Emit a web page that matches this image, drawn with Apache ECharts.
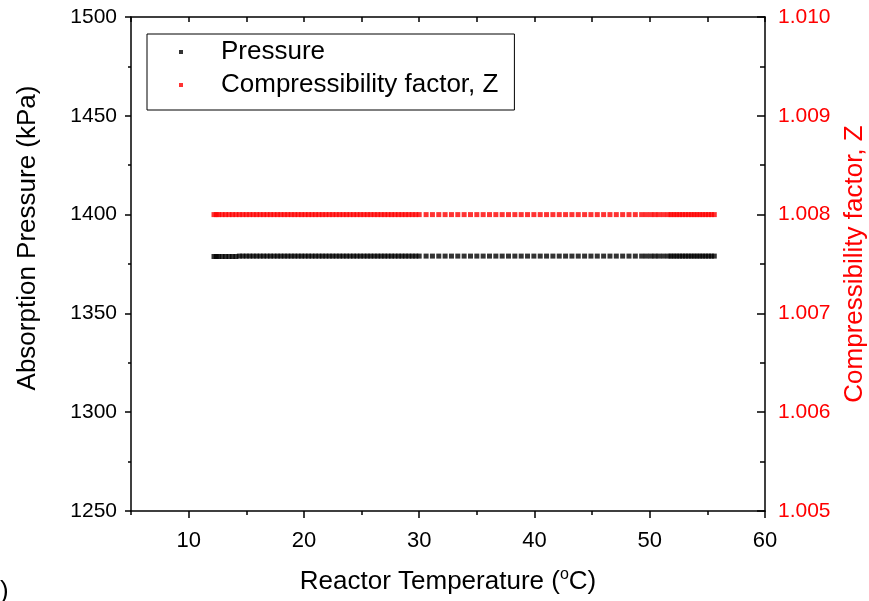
<!DOCTYPE html>
<html>
<head>
<meta charset="utf-8">
<script src="https://cdn.jsdelivr.net/npm/echarts@6/dist/echarts.min.js"></script>
<style>html,body{margin:0;padding:0;background:#fff}#c{width:869px;height:601px}</style>
</head>
<body>
<div id="c"></div>
<script>
// Reactor temperature (°C) of each recorded point
const temps = [
  12.2,12.4,12.6,12.9,13.2,13.5,13.8,14.1,14.4,14.7,
  15.0,15.3,15.6,15.9,16.2,16.5,16.8,17.1,17.4,17.7,
  18.0,18.3,18.6,18.9,19.2,19.5,19.8,20.1,20.4,20.7,
  21.0,21.3,21.6,21.9,22.2,22.5,22.8,23.1,23.4,23.7,
  24.0,24.3,24.6,24.9,25.2,25.5,25.8,26.1,26.4,26.7,
  27.0,27.3,27.6,27.9,28.2,28.5,28.8,29.1,29.4,29.7,
  30.0,
  30.6,31.15,31.7,32.25,32.8,33.35,33.9,34.45,35.0,35.55,
  36.1,36.65,37.2,37.75,38.3,38.85,39.4,39.95,40.5,41.05,
  41.6,42.15,42.7,43.25,43.8,44.35,44.9,45.45,46.0,46.55,
  47.1,47.65,48.2,48.75,49.3,
  49.7,50.1,50.45,50.8,51.2,
  51.6,51.85,52.1,52.35,52.6,52.85,53.1,53.35,53.6,53.85,
  54.1,54.35,54.6,54.85,55.1,55.35,55.6
];
// Absorption pressure (kPa)
const pressure = [
  1378.8,1378.8,1378.8,1378.8,1378.8,1378.8,1378.8,1378.8,1379,1379,
  1379,1379,1379,1379,1379,1379,1379,1379,1379,1379,
  1379,1379,1379,1379,1379,1379,1379,1379,1379,1379,
  1379,1379,1379,1379,1379,1379,1379,1379,1379,1379,
  1379,1379,1379,1379,1379,1379,1379,1379,1379,1379,
  1379,1379,1379,1379,1379,1379,1379,1379,1379,1379,
  1379,1379,1379,1379,1379,1379,1379,1379,1379,1379,
  1379,1379,1379,1379,1379,1379,1379,1379,1379,1379,
  1379,1379,1379,1379,1379,1379,1379,1379,1379,1379,
  1379,1379,1379,1379,1379,1379,1379,1379,1379,1379,
  1379,1379,1379,1379,1379,1379,1379,1379,1379,1379,
  1379,1379,1379,1379,1379,1379,1379,1379
];
// Compressibility factor Z
const zFactor = [
  1.008,1.008,1.008,1.008,1.008,1.008,1.008,1.008,1.008,1.008,
  1.008,1.008,1.008,1.008,1.008,1.008,1.008,1.008,1.008,1.008,
  1.008,1.008,1.008,1.008,1.008,1.008,1.008,1.008,1.008,1.008,
  1.008,1.008,1.008,1.008,1.008,1.008,1.008,1.008,1.008,1.008,
  1.008,1.008,1.008,1.008,1.008,1.008,1.008,1.008,1.008,1.008,
  1.008,1.008,1.008,1.008,1.008,1.008,1.008,1.008,1.008,1.008,
  1.008,1.008,1.008,1.008,1.008,1.008,1.008,1.008,1.008,1.008,
  1.008,1.008,1.008,1.008,1.008,1.008,1.008,1.008,1.008,1.008,
  1.008,1.008,1.008,1.008,1.008,1.008,1.008,1.008,1.008,1.008,
  1.008,1.008,1.008,1.008,1.008,1.008,1.008,1.008,1.008,1.008,
  1.008,1.008,1.008,1.008,1.008,1.008,1.008,1.008,1.008,1.008,
  1.008,1.008,1.008,1.008,1.008,1.008,1.008,1.008
];
const xMajorTicks = [10, 20, 30, 40, 50, 60];
const xMinorTicks = [5, 15, 25, 35, 45, 55];

const FONT = 'Liberation Sans, Arial, sans-serif';
const pData = temps.map((t, i) => [t, pressure[i]]);
const zData = temps.map((t, i) => [t, zFactor[i]]);
const black = { color: '#000', width: 1.5 };

const chart = echarts.init(document.getElementById('c'), null, { renderer: 'canvas' });
chart.setOption({
  animation: false,
  backgroundColor: '#fff',
  grid: { left: 131, right: 104, top: 17, bottom: 90, containLabel: false, outerBoundsMode: 'none' },
  legend: {
    left: 147, top: 34,
    orient: 'vertical',
    data: ['Pressure', 'Compressibility factor, Z'],
    icon: 'rect', itemWidth: 4, itemHeight: 4, itemGap: 7,
    padding: [5, 16, 12, 32],
    backgroundColor: '#fff',
    borderColor: '#000', borderWidth: 1,
    textStyle: { fontSize: 26, color: '#000', fontFamily: FONT, padding: [0, 0, 0, 33] }
  },
  xAxis: [
    {
      type: 'value', min: 5, max: 60, position: 'bottom',
      axisLine: { show: true, lineStyle: black },
      axisTick: { show: true, customValues: xMajorTicks, length: 7, lineStyle: black },
      axisLabel: { customValues: xMajorTicks, fontSize: 22, color: '#000', margin: 19, fontFamily: FONT, formatter: v => String(v) },
      splitLine: { show: false },
      name: '{a|Reactor Temperature (}{s|o}{a|C)}',
      nameLocation: 'middle', nameGap: 56,
      nameTextStyle: {
        rich: {
          a: { fontSize: 26, color: '#000', fontFamily: FONT, lineHeight: 30 },
          s: { fontSize: 16, color: '#000', fontFamily: FONT, verticalAlign: 'top', lineHeight: 30 }
        }
      }
    },
    {
      type: 'value', min: 5, max: 60, position: 'bottom',
      axisLine: { show: false },
      axisTick: { show: true, customValues: xMinorTicks, length: 4, lineStyle: black },
      axisLabel: { show: false },
      splitLine: { show: false }
    },
    {
      type: 'value', min: 5, max: 60, interval: 5, position: 'top',
      axisLine: { show: true, lineStyle: black },
      axisTick: { show: true, inside: true, length: 5, lineStyle: black },
      axisLabel: { show: false },
      splitLine: { show: false }
    }
  ],
  yAxis: [
    {
      type: 'value', min: 1250, max: 1500, interval: 50, position: 'left',
      axisLine: { show: true, lineStyle: black },
      axisTick: { show: true, length: 6, lineStyle: black },
      minorTick: { show: true, splitNumber: 2, length: 3, lineStyle: black },
      axisLabel: { fontSize: 21, color: '#000', margin: 14, fontFamily: FONT, formatter: v => String(v) },
      splitLine: { show: false },
      name: 'Absorption Pressure (kPa)',
      nameLocation: 'middle', nameGap: 90, nameRotate: 90,
      nameTextStyle: { fontSize: 26, color: '#000', fontFamily: FONT, padding: [0, 0, 0, 52] }
    },
    {
      type: 'value', min: 1.005, max: 1.010, interval: 0.001, position: 'right',
      axisLine: { show: true, lineStyle: black },
      axisTick: { show: true, inside: true, length: 8, lineStyle: black },
      minorTick: { show: true, splitNumber: 2, length: 5, lineStyle: black },
      axisLabel: { fontSize: 21, color: '#ff0000', margin: 13, fontFamily: FONT, formatter: v => v.toFixed(3) },
      splitLine: { show: false },
      name: 'Compressibility factor, Z',
      nameLocation: 'middle', nameGap: 75, nameRotate: 90,
      nameTextStyle: { fontSize: 26, color: '#ff0000', fontFamily: FONT }
    }
  ],
  series: [
    {
      name: 'Pressure', type: 'scatter', xAxisIndex: 0, yAxisIndex: 0,
      symbol: 'rect', symbolSize: 5,
      itemStyle: { color: '#000' },
      data: pData
    },
    {
      name: 'Compressibility factor, Z', type: 'scatter', xAxisIndex: 0, yAxisIndex: 1,
      symbol: 'rect', symbolSize: 5,
      itemStyle: { color: '#ff0000' },
      data: zData
    }
  ],
  graphic: [
    { type: 'text', left: 0, top: 579, style: { text: ')', fontSize: 26, fill: '#000', fontFamily: FONT } }
  ]
});
</script>
</body>
</html>
